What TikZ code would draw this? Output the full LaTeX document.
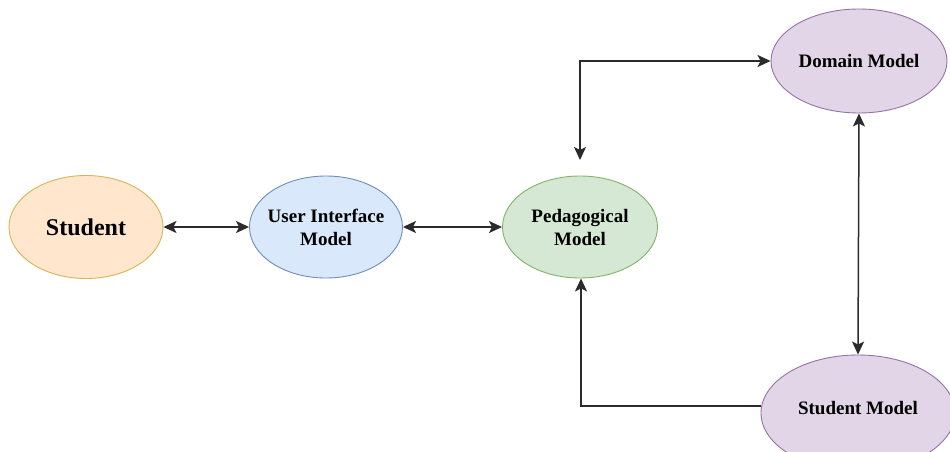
\documentclass[tikz,border=0pt]{standalone}
\usepackage{fontspec}
\setmainfont{Liberation Serif}
\usetikzlibrary{arrows.meta,shapes.geometric}

\definecolor{orgfill}{HTML}{FFE6CC}
\definecolor{orgline}{HTML}{D6B656}
\definecolor{bluefill}{HTML}{DAE8FC}
\definecolor{blueline}{HTML}{6C8EBF}
\definecolor{grnfill}{HTML}{D5E8D4}
\definecolor{grnline}{HTML}{82B366}
\definecolor{purfill}{HTML}{E1D5E7}
\definecolor{purline}{HTML}{9673A6}
\definecolor{wire}{HTML}{2B2B2B}

\tikzset{
  blob/.style={ellipse, draw, line width=0.9pt, inner sep=0pt},
  tag/.style={align=center, font=\fontsize{19}{23}\selectfont\bfseries},
  link/.style={draw=wire, line width=1.5pt,
    {Stealth[length=13pt,width=12pt,inset=3pt]}-{Stealth[length=13pt,width=12pt,inset=3pt]}},
  onelink/.style={draw=wire, line width=1.5pt, -{Stealth[length=13pt,width=12pt,inset=3pt]}},
}

\begin{document}
\begin{tikzpicture}[x=1pt,y=-1pt]
  \useasboundingbox (0,0) rectangle (950,452);
  \clip (0,0) rectangle (950,452);
  \fill[white] (0,0) rectangle (950,452);

  % component ellipses
  \node[blob, fill=orgfill, draw=orgline, minimum width=154pt, minimum height=103pt] (stu) at (86,227) {};
  \node[blob, fill=bluefill, draw=blueline, minimum width=153pt, minimum height=102pt] (ui) at (326,227) {};
  \node[blob, fill=grnfill, draw=grnline, minimum width=155pt, minimum height=102pt] (ped) at (580,227) {};
  \node[blob, fill=purfill, draw=purline, minimum width=176pt, minimum height=104pt] (dom) at (859,61) {};
  \node[blob, fill=purfill, draw=purline, minimum width=194pt, minimum height=116pt] (sm) at (858,413) {};

  % labels
  \node[tag, font=\fontsize{24}{28}\selectfont\bfseries] (stulabel) at (stu) {Student};
  \node[tag] (uilabel) at (ui) {User Interface\\Model};
  \node[tag] (pedlabel) at (ped) {Pedagogical\\Model};
  \node[tag] (domlabel) at (dom) {Domain Model};
  \node[tag] (smlabel) at (858,408) {Student Model};

  % routing points
  \coordinate (pedtop) at (580,160);
  \coordinate (bend1) at (580,61);
  \coordinate (smleft) at (sm.west |- 0,406);
  \coordinate (bend2) at (581,406);

  % connectors
  \draw[link] (stu) -- (ui);
  \draw[link] (ui) -- (ped);
  \draw[link] (pedtop) -- (bend1) -- (dom.west);
  \draw[link] (dom.south) -- (sm.north);
  \draw[onelink] (smleft) -- (bend2) -- (ped.south -| bend2);
\end{tikzpicture}
\end{document}
